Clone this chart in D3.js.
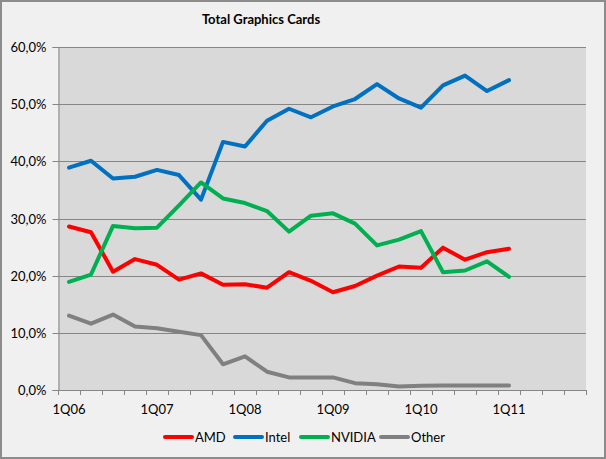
<!DOCTYPE html>
<html><head><meta charset="utf-8">
<script src="https://cdn.jsdelivr.net/npm/d3@7"></script>
<style>body{margin:0;background:#fff}svg{display:block}</style>
</head><body>
<svg id="c" width="606" height="459"></svg>
<script>
const categories = ["1Q06","2Q06","3Q06","4Q06","1Q07","2Q07","3Q07","4Q07","1Q08","2Q08","3Q08","4Q08","1Q09","2Q09","3Q09","4Q09","1Q10","2Q10","3Q10","4Q10","1Q11","2Q11","3Q11","4Q11"];
const amd    = [28.6,27.6,20.7,22.9,21.9,19.3,20.4,18.4,18.5,17.9,20.6,19.1,17.1,18.2,20.0,21.6,21.4,24.9,22.8,24.1,24.7];
const intel  = [38.9,40.1,37.0,37.3,38.5,37.6,33.3,43.4,42.6,47.1,49.2,47.7,49.6,50.9,53.5,51.0,49.4,53.3,55.0,52.3,54.2];
const nvidia = [18.9,20.2,28.7,28.3,28.4,32.3,36.3,33.5,32.7,31.3,27.7,30.5,30.9,29.1,25.3,26.3,27.8,20.6,20.9,22.5,19.8];
const other  = [13.0,11.6,13.2,11.1,10.8,10.2,9.6,4.5,5.9,3.2,2.2,2.2,2.2,1.2,1.0,0.6,0.75,0.8,0.8,0.8,0.8];
const seriesNames = ["AMD","Intel","NVIDIA","Other"];
const seriesColors = ["#ff0000","#0070c0","#00b050","#808080"];
const yTicks = [0,10,20,30,40,50,60];
const xLabels = ["1Q06","1Q07","1Q08","1Q09","1Q10","1Q11"];
const title = "Total Graphics Cards";

const font = "Lato, 'Open Sans', sans-serif";
const svg = d3.select("#c");
svg.append("rect").attr("x",1).attr("y",1).attr("width",604).attr("height",457)
  .attr("fill","#f0f0f0").attr("stroke","#8c8c8c").attr("stroke-width",2);

const L=58, R=586, T=47, B=390;
const x = d3.scaleBand().domain(categories).range([L,R]).padding(0);
const y = d3.scaleLinear().domain([0,60]).range([B,T]);

svg.append("rect").attr("x",L).attr("y",T).attr("width",R-L).attr("height",B-T).attr("fill","#d9d9d9");

// gridlines
svg.append("g").selectAll("line").data(yTicks.filter(d=>d>0)).join("line")
  .attr("x1",L).attr("x2",R).attr("y1",d=>Math.round(y(d))+0.5).attr("y2",d=>Math.round(y(d))+0.5)
  .attr("stroke","#868686").attr("stroke-width",1);

// y axis
const yAxis = d3.axisLeft(y).tickValues(yTicks).tickSize(6).tickPadding(6)
  .tickFormat(d=>d3.format(".1f")(d).replace(".",",")+"%");
const gy = svg.append("g").attr("transform",`translate(${L+0.5},0)`).call(yAxis);
gy.select(".domain").attr("stroke","#868686");
gy.selectAll(".tick line").attr("stroke","#868686");
gy.selectAll(".tick").attr("transform",d=>`translate(0,${Math.round(y(d))+0.5})`);
gy.selectAll("text").attr("font-family",font).attr("font-size",13).attr("fill","#000");

// x axis: ticks at category boundaries
const bounds = categories.map(c=>x(c)).concat([R]);
const gx = svg.append("g");
gx.append("line").attr("x1",L).attr("x2",R).attr("y1",B+0.5).attr("y2",B+0.5).attr("stroke","#868686");
gx.selectAll("line.t").data(bounds).join("line").attr("class","t")
  .attr("x1",d=>Math.round(d)+0.5).attr("x2",d=>Math.round(d)+0.5).attr("y1",B).attr("y2",B+5).attr("stroke","#868686");
gx.selectAll("text").data(xLabels).join("text")
  .attr("x",d=>x(d)+x.bandwidth()/2).attr("y",B+24).attr("text-anchor","middle")
  .attr("font-family",font).attr("font-size",13).attr("fill","#000").text(d=>d);

// lines
const data = [amd,intel,nvidia,other];
const line = d3.line().x((d,i)=>x(categories[i])+x.bandwidth()/2).y(d=>y(d));
data.forEach((s,k)=>{
  svg.append("path").datum(s).attr("d",line).attr("fill","none")
    .attr("stroke",seriesColors[k]).attr("stroke-width",4).attr("stroke-linejoin","round").attr("stroke-linecap","round");
});

// title
svg.append("text").attr("x",261).attr("y",24).attr("text-anchor","middle")
  .attr("font-family",font).attr("font-weight","bold").attr("font-size",13).text(title);

// legend
const legX = [165,235,301,381];
const lg = svg.append("g");
seriesNames.forEach((n,k)=>{
  lg.append("line").attr("x1",legX[k]).attr("x2",legX[k]+27).attr("y1",437).attr("y2",437)
    .attr("stroke",seriesColors[k]).attr("stroke-width",4).attr("stroke-linecap","round");
  lg.append("text").attr("x",legX[k]+30).attr("y",442).attr("font-family",font).attr("font-size",13).text(n);
});
</script>
</body></html>
